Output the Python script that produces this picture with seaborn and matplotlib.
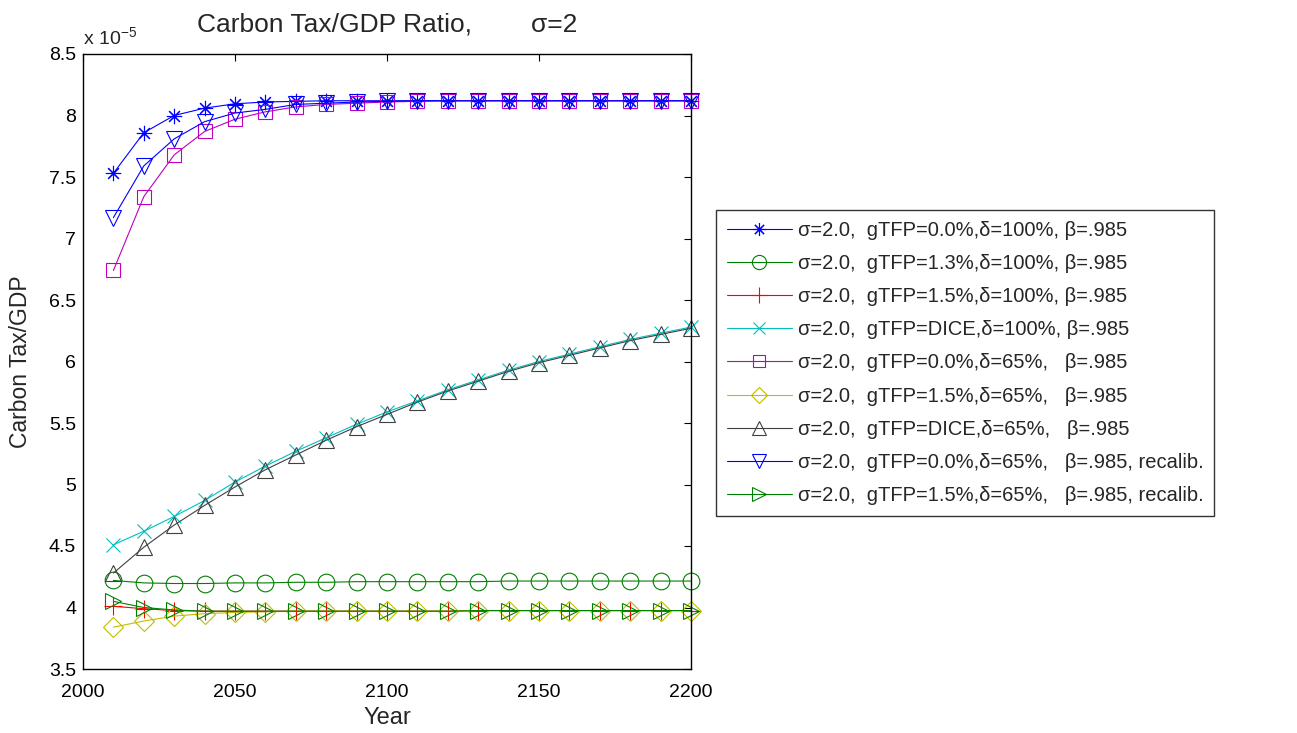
import numpy as np
import pandas as pd
import matplotlib
matplotlib.use("Agg")
import matplotlib.pyplot as plt
import seaborn as sns

# Years of the simulation
years = list(range(2010, 2201, 10))

# Carbon tax / GDP ratio, in units of 1e-5
g00_d100 = [7.53, 7.86, 8.00, 8.06, 8.095, 8.11, 8.115, 8.12, 8.12, 8.12,
            8.12, 8.12, 8.12, 8.12, 8.12, 8.12, 8.12, 8.12, 8.12, 8.12]
g13_d100 = [4.22, 4.20, 4.195, 4.195, 4.20, 4.20, 4.205, 4.205, 4.21, 4.21,
            4.21, 4.21, 4.21, 4.215, 4.215, 4.215, 4.215, 4.215, 4.215, 4.215]
g15_d100 = [4.01, 3.99, 3.975, 3.97, 3.97, 3.97, 3.97, 3.97, 3.97, 3.97,
            3.97, 3.97, 3.975, 3.975, 3.975, 3.975, 3.975, 3.975, 3.975, 3.975]
dice_d100 = [4.51, 4.62, 4.74, 4.87, 5.02, 5.15, 5.27, 5.38, 5.49, 5.59,
             5.68, 5.77, 5.85, 5.93, 6.00, 6.06, 6.12, 6.18, 6.23, 6.28]
g00_d65 = [6.74, 7.34, 7.68, 7.87, 7.97, 8.03, 8.07, 8.09, 8.10, 8.11,
           8.115, 8.12, 8.12, 8.12, 8.12, 8.12, 8.12, 8.12, 8.12, 8.12]
g15_d65 = [3.84, 3.89, 3.93, 3.95, 3.96, 3.965, 3.97, 3.97, 3.97, 3.97,
           3.97, 3.97, 3.975, 3.975, 3.975, 3.975, 3.975, 3.975, 3.975, 3.975]
dice_d65 = [4.28, 4.49, 4.67, 4.83, 4.98, 5.12, 5.24, 5.36, 5.47, 5.57,
            5.67, 5.76, 5.84, 5.92, 5.99, 6.05, 6.11, 6.17, 6.22, 6.27]
g00_d65_rc = [7.17, 7.59, 7.81, 7.95, 8.02, 8.05, 8.09, 8.10, 8.11, 8.115,
              8.12, 8.12, 8.12, 8.12, 8.12, 8.12, 8.12, 8.12, 8.12, 8.12]
g15_d65_rc = [4.05, 4.00, 3.98, 3.97, 3.97, 3.97, 3.97, 3.97, 3.97, 3.97,
              3.97, 3.97, 3.975, 3.975, 3.975, 3.975, 3.975, 3.975, 3.975, 3.975]

labels = [
    "σ=2.0,  gTFP=0.0%,δ=100%, β=.985",
    "σ=2.0,  gTFP=1.3%,δ=100%, β=.985",
    "σ=2.0,  gTFP=1.5%,δ=100%, β=.985",
    "σ=2.0,  gTFP=DICE,δ=100%, β=.985",
    "σ=2.0,  gTFP=0.0%,δ=65%,   β=.985",
    "σ=2.0,  gTFP=1.5%,δ=65%,   β=.985",
    "σ=2.0,  gTFP=DICE,δ=65%,   β=.985",
    "σ=2.0,  gTFP=0.0%,δ=65%,   β=.985, recalib.",
    "σ=2.0,  gTFP=1.5%,δ=65%,   β=.985, recalib.",
]
series = [g00_d100, g13_d100, g15_d100, dice_d100, g00_d65,
          g15_d65, dice_d65, g00_d65_rc, g15_d65_rc]

colors = ["#0000ff", "#008000", "#ff0000", "#00bfbf", "#bf00bf",
          "#bfbf00", "#404040", "#0000ff", "#008000"]
markers = [(8, 2, 0), "o", "+", "x", "s", "D", "^", "v", ">"]
msizes = [11, 12, 13, 10, 10, 10, 12, 12, 12]

sns.set_style("white")
plt.rcParams["font.family"] = ["Liberation Sans", "DejaVu Sans"]
plt.rcParams["xtick.direction"] = "in"
plt.rcParams["ytick.direction"] = "in"

fig = plt.figure(figsize=(12.97, 7.33), dpi=100)
ax = fig.add_axes([83 / 1297, 1 - 669 / 733, (691 - 83) / 1297, (669 - 54) / 733])

df = pd.DataFrame({"Year": years})
for lab, vals, c, m, ms in zip(labels, series, colors, markers, msizes):
    df["v"] = vals
    sns.lineplot(data=df, x="Year", y="v", ax=ax, color=c, marker=m,
                 markersize=ms, markerfacecolor="none", markeredgecolor=c,
                 markeredgewidth=0.8, linewidth=0.8, label=lab, legend=False,
                 clip_on=False)

ax.set_xlim(2000, 2200)
ax.set_ylim(3.5, 8.5)
ax.set_xticks([2000, 2050, 2100, 2150, 2200])
ax.set_yticks(np.arange(3.5, 8.51, 0.5))
ax.set_yticklabels([f"{v:g}" for v in np.arange(3.5, 8.51, 0.5)])
ax.tick_params(axis="both", which="both", labelsize=14, length=5, width=0.8,
               top=True, right=True, direction="in", colors="black")
ax.tick_params(axis="x", pad=11)
ax.tick_params(axis="y", pad=5)
for s in ax.spines.values():
    s.set_color("black")
    s.set_linewidth(1.0)

ax.set_xlabel("Year", fontsize=17, labelpad=4)
ax.set_ylabel("Carbon Tax/GDP", fontsize=16.5, labelpad=12)
ax.set_title("Carbon Tax/GDP Ratio,        σ=2", fontsize=19, pad=16)
ax.text(0.0, 1.008, r"x 10$^{\mathregular{-5}}$", transform=ax.transAxes,
        fontsize=14, ha="left", va="bottom")

handles, hl = ax.get_legend_handles_labels()
leg = fig.legend(handles, hl, loc="upper left",
                 bbox_to_anchor=(716 / 1297, 1 - 210 / 733),
                 bbox_transform=fig.transFigure, fontsize=14.5,
                 frameon=True, fancybox=False, edgecolor="black",
                 borderaxespad=0, handlelength=3.2, labelspacing=0.7,
                 borderpad=0.55, handletextpad=0.3, markerscale=0.85)
leg.get_frame().set_linewidth(1.0)

fig.savefig("out.png", dpi=100, facecolor="white")
